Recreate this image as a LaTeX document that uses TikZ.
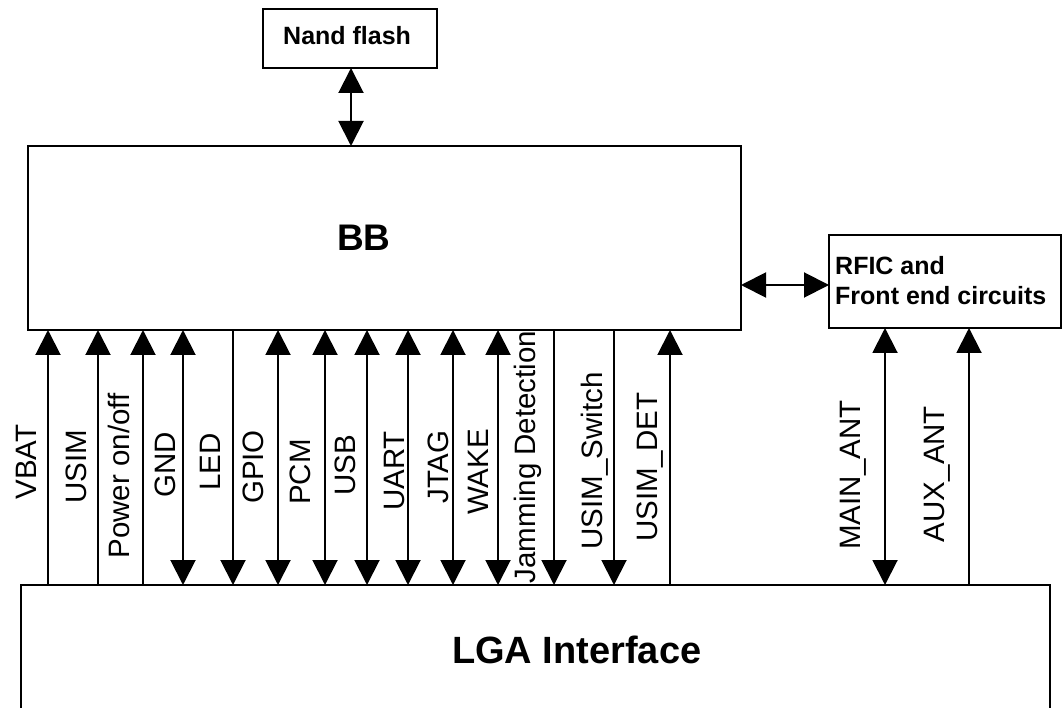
\documentclass[tikz,border=0pt]{standalone}
\usepackage{fontspec}
\setmainfont{Liberation Sans}
\usetikzlibrary{arrows.meta}
\begin{document}
\begin{tikzpicture}[x=1pt,y=-1pt,
  box/.style={draw, line width=2pt, fill=white, inner sep=0pt, outer sep=0pt, rectangle},
  sig/.style={font=\fontsize{29.5}{34}\selectfont, rotate=90, inner sep=0pt, text height=21pt, text depth=0pt, anchor=center},
  lbl/.style={inner sep=0pt, anchor=base west},
  conn/.style={line width=2pt},
  >={Triangle[width=25pt,length=25pt]}
]
\useasboundingbox (0,0) rectangle (1063,708);
\clip (0,0) rectangle (1063,708);

% signal labels
\node[sig] (sVBAT) at (26,462) {VBAT};
\node[sig] (sUSIM) at (76,467) {USIM};
\node[sig] (sPWR) at (119,476) {Power on/off};
\node[sig] (sGND) at (165,465) {GND};
\node[sig] (sLED) at (210,462) {LED};
\node[sig] (sGPIO) at (253,467) {GPIO};
\node[sig] (sPCM) at (300,472) {PCM};
\node[sig] (sUSB) at (345,465) {USB};
\node[sig] (sUART) at (394,471) {UART};
\node[sig] (sJTAG) at (438,467) {JTAG};
\node[sig] (sWAKE) at (478,472) {WAKE};
\node[sig] (sJAM) at (525,457) {Jamming Detection};
\node[sig] (sSW) at (592,461) {USIM\_Switch};
\node[sig] (sDET) at (647,467) {USIM\_DET};
\node[sig] (sMAIN) at (850,475) {MAIN\_ANT};
\node[sig] (sAUX) at (934,474) {AUX\_ANT};

% boxes
\node[box, minimum width=174pt, minimum height=59pt] (nand) at (350,38.5) {};
\node[box, minimum width=713pt, minimum height=184pt] (bb) at (384.5,238) {};
\node[box, minimum width=232pt, minimum height=93pt] (rfic) at (945,281.5) {};
\node[box, minimum width=1029pt, minimum height=160pt] (lga) at (535.5,665) {};

% box texts
\node[lbl, font=\bfseries\fontsize{25}{30}\selectfont] (nandt) at (283,45) {Nand flash};
\node[lbl, font=\bfseries\fontsize{37}{44}\selectfont] (bbt) at (337,251) {BB};
\node[lbl, font=\bfseries\fontsize{25}{30}\selectfont] (rft1) at (835,275) {RFIC and};
\node[lbl, font=\bfseries\fontsize{25}{30}\selectfont] (rft2) at (835,305) {Front end circuits};
\node[lbl, font=\bfseries\fontsize{38}{46}\selectfont] (lgat) at (452,663) {LGA Interface};

% connectors
\draw[conn,<->] (351,0 |- nand.south) -- (351,0 |- bb.north);
\draw[conn,<->] (bb.east |- 0,285) -- (rfic.west |- 0,285);
\foreach \x in {48,98,143,670}
  \draw[conn,->] (\x,0 |- lga.north) -- (\x,0 |- bb.south);
\foreach \x in {183,278,325,367,408,453,498}
  \draw[conn,<->] (\x,0 |- lga.north) -- (\x,0 |- bb.south);
\foreach \x in {233,554,614}
  \draw[conn,<-] (\x,0 |- lga.north) -- (\x,0 |- bb.south);
\draw[conn,<->] (885,0 |- lga.north) -- (885,0 |- rfic.south);
\draw[conn,->] (969,0 |- lga.north) -- (969,0 |- rfic.south);
\end{tikzpicture}
\end{document}
